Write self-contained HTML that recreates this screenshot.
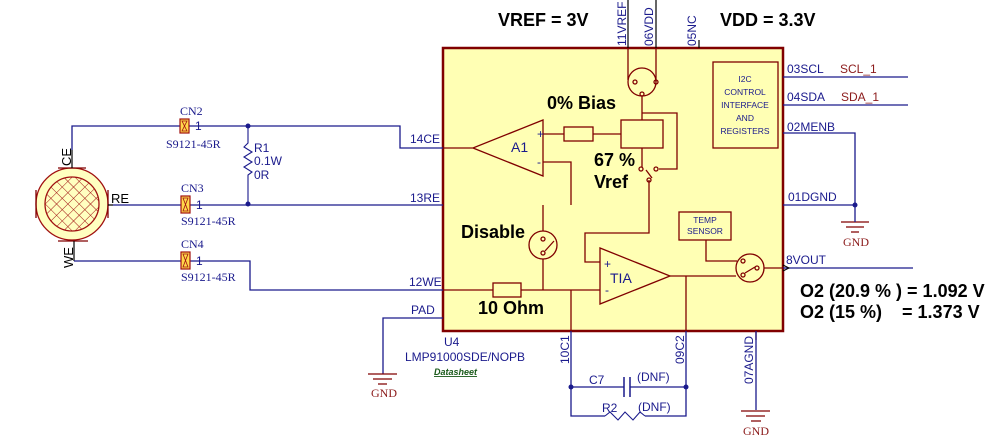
<!DOCTYPE html>
<html><head><meta charset="utf-8"><style>
body{margin:0;background:#fff}
svg{display:block;font-family:"Liberation Sans",Arial,sans-serif}
.w{stroke:#1a1a8c;stroke-width:1.3;fill:none}
.m{stroke:#800000;stroke-width:1.3;fill:none}
.p{fill:#1a1a8c;font-size:12px}
.b{font-weight:bold;fill:#000;font-size:18px}
.r{fill:#8b1a1a;font-size:12px}
.s{font-family:"Liberation Serif",serif;fill:#1a1a8c;font-size:12px}
</style></head><body>
<svg width="1008" height="442" viewBox="0 0 1008 442">
<defs>
<pattern id="hx" width="8" height="8" patternUnits="userSpaceOnUse" patternTransform="rotate(45)">
<path d="M0 0H8M0 0V8" stroke="#a01010" stroke-width="1"/></pattern>
</defs>
<rect x="443" y="48" width="340" height="283" fill="#ffffb4" stroke="#800000" stroke-width="2.5"/>
<circle cx="72" cy="204" r="36" fill="#ffffc0" stroke="#a01010" stroke-width="1.3"/>
<circle cx="72" cy="204" r="27" fill="url(#hx)" stroke="#a01010" stroke-width="1.3"/>
<path class="m" d="M58 168H86M58 241H88M108 190V218M36 190V218"/>
<text x="0" y="0" transform="translate(71,166) rotate(-90)" font-size="13">CE</text>
<text x="0" y="0" transform="translate(73,268) rotate(-90)" font-size="13">WE</text>
<text x="111" y="203" font-size="13">RE</text>
<path d="M72 168V150M74 241V261M108 205H113" stroke="#000" stroke-width="1.2"/>
<path class="w" d="M72 150V126H400V148H443"/>
<path class="w" d="M113 205H443"/>
<path class="w" d="M74 261H250V290H443"/>
<path class="w" d="M443 318H383V374"/>
<circle cx="248" cy="126" r="2.5" fill="#1a1a8c"/><circle cx="248" cy="204" r="2.5" fill="#1a1a8c"/>
<path d="M248 126V143L244 147L252 152L244 157L252 162L244 167L252 172L248 175V204" stroke="#1a1a8c" stroke-width="1.1" fill="#fff"/>
<text x="254" y="152" class="p">R1</text><text x="254" y="165" class="p">0.1W</text><text x="254" y="179" class="p">0R</text>
<g fill="#ffd84a" stroke="#a01010" stroke-width="1.2">
<rect x="180" y="119" width="9" height="14"/><rect x="181" y="196" width="9" height="17"/><rect x="181" y="252" width="9" height="17"/></g>
<g stroke="#a01010" stroke-width="0.8" fill="none">
<path d="M182 121H187L182 131H187Z"/><path d="M183 198H188L183 211H188Z"/><path d="M183 254H188L183 267H188Z"/></g>
<g class="s"><text x="180" y="115">CN2</text><text x="166" y="148">S9121-45R</text>
<text x="181" y="192">CN3</text><text x="181" y="225">S9121-45R</text>
<text x="181" y="248">CN4</text><text x="181" y="281">S9121-45R</text></g>
<g class="p" font-size="10"><text x="195" y="130">1</text><text x="196" y="209">1</text><text x="196" y="265">1</text></g>
<g stroke="#800000" stroke-width="1.3">
<path d="M368 374H397M373 379H392M378 384H387"/>
<path d="M841 222H869M846 227H864M851 232H859"/>
<path d="M741 411H770M746 416H765M751 421H761"/>
</g>
<text x="371" y="397" class="r" font-family="Liberation Serif,serif">GND</text>
<text x="843" y="246" class="r" font-family="Liberation Serif,serif">GND</text>
<text x="743" y="435" class="r" font-family="Liberation Serif,serif">GND</text>
<g class="p" font-size="13"><text x="410" y="143">14CE</text><text x="410" y="202">13RE</text>
<text x="409" y="286">12WE</text><text x="411" y="314">PAD</text>
<text x="444" y="346">U4</text><text x="405" y="361">LMP91000SDE/NOPB</text></g>
<text x="434" y="375" font-size="9" font-style="italic" font-weight="bold" fill="#1a5a1a" text-decoration="underline">Datasheet</text>
<path class="w" d="M783 77H908M783 105H908M783 133H855V205H783M855 205V222M783 268H913"/>
<circle cx="855" cy="205" r="2.5" fill="#1a1a8c"/>
<g class="p" font-size="13"><text x="787" y="73">03SCL</text><text x="787" y="101">04SDA</text>
<text x="787" y="131">02MENB</text><text x="788" y="201">01DGND</text><text x="786" y="264">8VOUT</text></g>
<text x="840" y="73" class="r" font-size="13">SCL_1</text><text x="841" y="101" class="r" font-size="13">SDA_1</text>
<path d="M783 265L789 268L783 271" stroke="#000" fill="none"/>
<path d="M628 0V48M656 0V48M699 40V48" stroke="#000" stroke-width="1.2"/>
<g class="p" font-size="13">
<text transform="translate(626,46) rotate(-90)">11VREF</text>
<text transform="translate(653,46) rotate(-90)">06VDD</text>
<text transform="translate(696,46) rotate(-90)">05NC</text>
<text transform="translate(569,364) rotate(-90)">10C1</text>
<text transform="translate(684,364) rotate(-90)">09C2</text>
<text transform="translate(753,384) rotate(-90)">07AGND</text></g>
<text x="498" y="26" class="b">VREF = 3V</text>
<text x="720" y="26" class="b">VDD = 3.3V</text>
<g class="m">
<path d="M443 148H473L543 120V176L473 148"/>
<path d="M543 134H564M593 134H621"/>
<rect x="564" y="127" width="29" height="14"/>
<rect x="621" y="120" width="42" height="28"/>
<circle cx="642" cy="82" r="14"/>
<path d="M628 48V80M656 48V82M642 96V120M642 113H677V169H659M642 148V167M646 170L652 178M649 180V233H585V262H600"/>
<circle cx="641" cy="169" r="2"/><circle cx="656" cy="169" r="2"/><circle cx="649" cy="180" r="2"/>
<circle cx="635" cy="82" r="2"/><circle cx="656" cy="82" r="2"/><circle cx="642" cy="94" r="2"/>
<path d="M543 162H571V205M543 205V231M543 259V290"/>
<circle cx="543" cy="245" r="14"/><circle cx="543" cy="239" r="2"/><circle cx="543" cy="253" r="2"/><path d="M545 251L554 241"/>
<path d="M443 290H493M521 290H600M571 290V331"/>
<rect x="493" y="283" width="28" height="14"/>
<path d="M600 248V304L670 276Z"/>
<path d="M670 276H736M686 276V331"/>
<rect x="679" y="212" width="52" height="28"/>
<path d="M706 240V261H737"/>
<circle cx="750" cy="268" r="14"/><circle cx="743" cy="261" r="2"/><circle cx="743" cy="275" r="2"/><circle cx="757" cy="268" r="2"/><path d="M745 273L755 267M764 268H783"/>
<rect x="713" y="62" width="65" height="86"/>
<path d="M756 331V340"/>
</g>
<g fill="#1a1a8c" font-size="12"><text x="537" y="138">+</text><text x="537" y="166">-</text>
<text x="511" y="152" font-size="14">A1</text>
<text x="604" y="268">+</text><text x="605" y="294">-</text><text x="610" y="283" font-size="14">TIA</text>
<g font-size="8.5" text-anchor="middle"><text x="705" y="223">TEMP</text><text x="705" y="234">SENSOR</text>
<text x="745" y="82">I2C</text><text x="745" y="95">CONTROL</text><text x="745" y="108">INTERFACE</text><text x="745" y="121">AND</text><text x="745" y="134">REGISTERS</text></g></g>
<g class="b" font-size="17"><text x="547" y="109">0% Bias</text><text x="594" y="166">67 %</text><text x="594" y="188">Vref</text>
<text x="461" y="238">Disable</text><text x="478" y="314">10 Ohm</text></g>
<g class="b" font-size="18"><text x="800" y="297">O2 (20.9 % ) = 1.092 V</text><text x="800" y="318">O2 (15 %)&#160;&#160;&#160;&#160;= 1.373 V</text></g>
<path class="w" d="M571 331V416H605M645 416H686V331M571 387H624M630 387H686M756 331V410"/>
<path d="M624 377V397M630 377V397" stroke="#1a1a8c" stroke-width="1.5"/>
<path d="M605 416L610 412L618 420L625 412L633 420L640 412L645 416" stroke="#1a1a8c" fill="none" stroke-width="1.1"/>
<circle cx="571" cy="387" r="2.5" fill="#1a1a8c"/><circle cx="686" cy="387" r="2.5" fill="#1a1a8c"/>
<g class="p" font-size="13"><text x="589" y="384">C7</text><text x="637" y="381">(DNF)</text>
<text x="602" y="412">R2</text><text x="638" y="411">(DNF)</text></g>
</svg>
</body></html>
